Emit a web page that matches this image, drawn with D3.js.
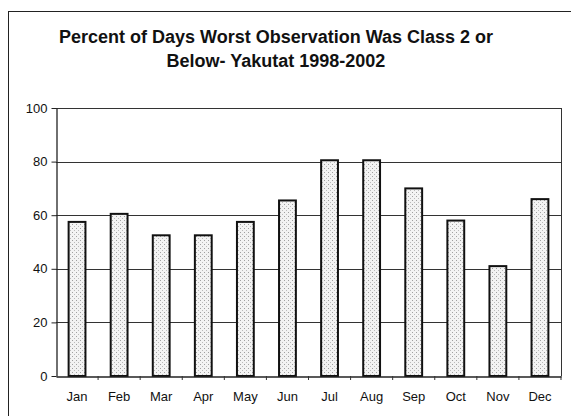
<!DOCTYPE html>
<html>
<head>
<meta charset="utf-8">
<script src="https://cdn.jsdelivr.net/npm/d3@7"></script>
<style>
  html, body { margin: 0; padding: 0; background: #fff; }
  svg { display: block; }
</style>
</head>
<body>
<svg></svg>
<script>
// chart data
const months = ['Jan','Feb','Mar','Apr','May','Jun','Jul','Aug','Sep','Oct','Nov','Dec'];
const percents = [57.5, 60.5, 52.5, 52.5, 57.5, 65.5, 80.5, 80.5, 70, 58, 41, 66];
const yTicks = [0, 20, 40, 60, 80, 100];
const titleLines = ['Percent of Days Worst Observation Was Class 2 or', 'Below- Yakutat 1998-2002'];

const width = 571, height = 416;
const plot = { left: 56, right: 561, top: 108, bottom: 376 };
const font = 'Arial, "Liberation Sans", sans-serif';

const svg = d3.select('svg')
  .attr('width', width)
  .attr('height', height)
  .style('font-family', font);

// stipple pattern for the bars
const defs = svg.append('defs');
const pat = defs.append('pattern')
  .attr('id', 'stip')
  .attr('width', 4).attr('height', 4)
  .attr('patternUnits', 'userSpaceOnUse');
pat.append('rect').attr('width', 4).attr('height', 4).attr('fill', '#f3f3f3');
pat.append('rect').attr('x', 0).attr('y', 0).attr('width', 1).attr('height', 1).attr('fill', '#a0a0a0');
pat.append('rect').attr('x', 2).attr('y', 2).attr('width', 1).attr('height', 1).attr('fill', '#bbbbbb');

// outer chart frame (runs off the right/bottom of the picture)
svg.append('rect')
  .attr('x', 8.5).attr('y', 11.5)
  .attr('width', 580).attr('height', 420)
  .attr('fill', 'none')
  .attr('stroke', '#222')
  .attr('stroke-width', 1);

// title
svg.append('g').selectAll('text')
  .data(titleLines)
  .enter().append('text')
  .attr('x', 276)
  .attr('y', (d, i) => 43 + i * 24)
  .attr('text-anchor', 'middle')
  .attr('font-size', 18)
  .attr('font-weight', 'bold')
  .attr('fill', '#111')
  .text(d => d);

const x = d3.scaleBand()
  .domain(months)
  .range([plot.left, plot.right])
  .paddingInner(0.6)
  .paddingOuter(0.3);

const xOuter = d3.scaleBand()
  .domain(months)
  .range([plot.left, plot.right]);

const y = d3.scaleLinear()
  .domain([0, 100])
  .range([plot.bottom, plot.top]);

// gridlines
svg.append('g').selectAll('line')
  .data(yTicks.filter(d => d > 0))
  .enter().append('line')
  .attr('x1', plot.left).attr('x2', plot.right)
  .attr('y1', d => Math.round(y(d)) + 0.5)
  .attr('y2', d => Math.round(y(d)) + 0.5)
  .attr('stroke', '#333')
  .attr('stroke-width', 1);

// right border of plot
svg.append('line')
  .attr('x1', plot.right + 0.5).attr('x2', plot.right + 0.5)
  .attr('y1', plot.top).attr('y2', plot.bottom)
  .attr('stroke', '#333');

// y axis
const yAxis = svg.append('g')
  .attr('transform', `translate(${plot.left + 0.5},0)`)
  .call(d3.axisLeft(y).tickValues(yTicks).tickSize(5).tickSizeOuter(0).tickPadding(4));
yAxis.select('.domain').attr('stroke', '#222').attr('stroke-width', 1.3);
yAxis.selectAll('.tick line').attr('stroke', '#222');
yAxis.selectAll('.tick text')
  .attr('font-size', 13)
  .attr('font-family', font)
  .attr('fill', '#111');

// bars
svg.append('g').selectAll('rect')
  .data(percents)
  .enter().append('rect')
  .attr('x', (d, i) => x(months[i]))
  .attr('y', d => y(d))
  .attr('width', x.bandwidth())
  .attr('height', d => plot.bottom - y(d))
  .attr('fill', 'url(#stip)')
  .attr('stroke', '#111')
  .attr('stroke-width', 2);

// x axis
const xAxis = svg.append('g')
  .attr('transform', `translate(0,${plot.bottom + 0.5})`)
  .call(d3.axisBottom(xOuter).tickSize(0).tickPadding(15));
xAxis.select('.domain').attr('stroke', '#222').attr('stroke-width', 1.3);
xAxis.selectAll('.tick text')
  .attr('font-size', 13)
  .attr('font-family', font)
  .attr('fill', '#111');

// small ticks at category boundaries
svg.append('g').selectAll('line')
  .data(months.slice(1).concat(['end']))
  .enter().append('line')
  .attr('x1', (d, i) => i < 11 ? xOuter(d) : plot.right)
  .attr('x2', (d, i) => i < 11 ? xOuter(d) : plot.right)
  .attr('y1', plot.bottom)
  .attr('y2', plot.bottom + 4)
  .attr('stroke', '#333');
</script>
</body>
</html>
